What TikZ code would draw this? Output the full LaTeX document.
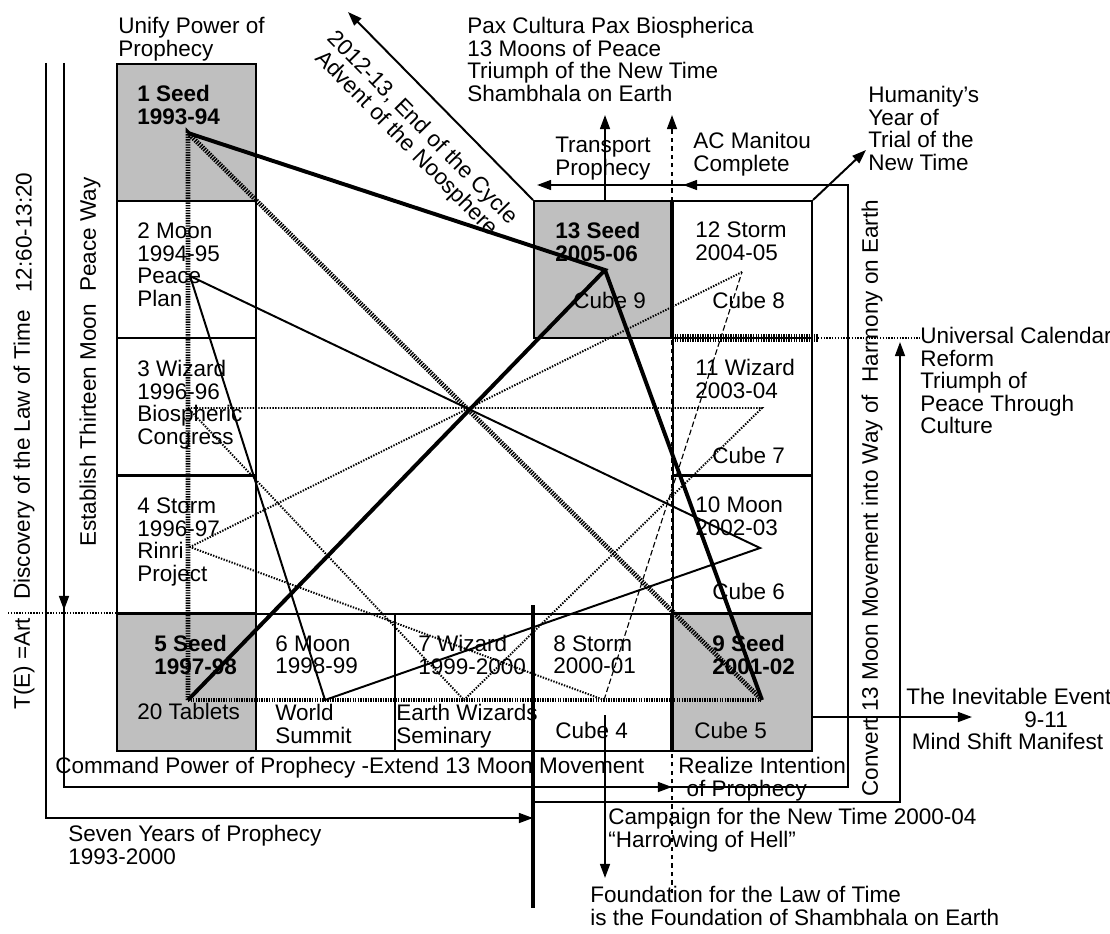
\documentclass[tikz,border=0pt]{standalone}
\usepackage{fontspec}
\setmainfont{Liberation Sans}
\usetikzlibrary{arrows.meta}

\begin{document}
\begin{tikzpicture}[x=0.025cm,y=-0.025cm,>={Triangle[length=10pt,width=7pt]},
		font=\fontsize{16}{16}\selectfont,
		cell/.style={draw,line width=1.4pt,anchor=north west,inner sep=0pt,minimum width=3.475cm,minimum height=3.425cm},
		seed/.style={cell,fill=black!25},
		txt/.style={anchor=north west,align=left,inner sep=0pt},
		boldtxt/.style={txt,font=\fontsize{16}{16}\selectfont\bfseries},
		upright/.style={rotate=90,anchor=west,inner sep=0pt},
		rail/.style={line width=1.4pt},
		heavy/.style={line width=2.8pt},
		seedline/.style={line width=2.8pt},
		seedhatch/.style={line width=3.4pt,dash pattern=on 1pt off 0.8pt},
		moonline/.style={line width=1.4pt},
		wizline/.style={line width=1.4pt,dash pattern=on 1pt off 1pt},
		stormline/.style={line width=1.4pt,dash pattern=on 1pt off 1pt},
		stormdash/.style={line width=0.8pt,dash pattern=on 4pt off 2pt}]
		\useasboundingbox (0,0) rectangle (1110,933);
		% the thirteen years
		\node[seed] (b1) at (116,63) {};
		\node[cell] (b2) at (116,200) {};
		\node[cell] (b3) at (116,337) {};
		\node[cell] (b4) at (116,475) {};
		\node[seed] (b5) at (116,613) {};
		\node[cell] (b6) at (255,613) {};
		\node[cell] (b7) at (394,613) {};
		\node[cell] (b8) at (533,613) {};
		\node[seed] (b9) at (672,613) {};
		\node[cell] (b10) at (672,475) {};
		\node[cell] (b11) at (672,337) {};
		\node[cell] (b12) at (672,200) {};
		\node[seed] (b13) at (533,200) {};
		
		\coordinate (v1) at (188,133);
		\coordinate (v2) at (190,276);
		\coordinate (v3) at (188,408);
		\coordinate (v4) at (190,547);
		\coordinate (v5) at (188,700);
		\coordinate (v6) at (325,700);
		\coordinate (v7) at (464,700);
		\coordinate (v8) at (604,700);
		\coordinate (v9) at (762,700);
		\coordinate (v10) at (760,548);
		\coordinate (v11) at (762,408);
		\coordinate (v12) at (742,272);
		\coordinate (v13) at (605,270);
		
		\draw[seedhatch] (v5) -- (v1) -- (v9);
		\draw[seedhatch,line width=2.4pt] (v5) -- (v9);
		\draw[seedline] (v1) -- (v13) -- (v5) (v13) -- (v9);
		\draw[moonline] (v2) -- (v10) -- (v6) -- cycle;
		\draw[wizline] (v3) -- (v11) -- (v7) -- cycle;
		\draw[stormline] (v12) -- (v4) -- (v8);
		\draw[stormdash] (v8) -- (v12);
		
		% time lines round the cube
		\draw[rail,->] (46,63) |- (533,818);
		\draw[rail,->] (64,63) -- (64,610);
		\draw[rail,->] (64,600) |- (672,787);
		\draw[rail,->] (660,787) -| (848,185) -- (683,185);
		\draw[rail,->] (690,185) -- (537,185);
		\draw[heavy] (533,605) -- (533,908);
		\draw[rail,->] (533,802) -| (900,342);
		\draw[rail,dashed,->] (672,893) -- (672,115);
		\draw[heavy] (672,613) -- (672,750) (672,200) -- (672,337);
		\draw[rail,->] (605,200) -- (605,115);
		\draw[rail,->] (605,715) -- (605,878);
		\draw[rail,->] (b13.north west) -- (348,12);
		\draw[rail,->] (b12.north east) -- (866,150);
		\draw[rail,->] (812,717) -- (972,717);
		\draw[line width=5pt,dash pattern=on 1pt off 0.8pt] (672,338) -- (818,338);
		\draw[line width=1pt,dash pattern=on 1pt off 1pt] (818,338) -- (920,338);
		\draw[line width=1pt,dash pattern=on 1pt off 1pt] (8,613) -- (b5.north west);
		
		\node[boldtxt] (t1) at (137,85) {1 Seed\\1993-94};
		\node[txt] (t2) at (137,223) {2 Moon\\1994-95\\Peace\\Plan};
		\node[txt] (t3) at (137,360) {3 Wizard\\1996-96\\Biospheric\\Congress};
		\node[txt] (t4) at (137,498) {4 Storm\\1996-97\\Rinri\\Project};
		\node[boldtxt] (t5) at (154,635) {5 Seed\\1997-98};
		\node[txt] (tablets) at (137,703) {20 Tablets};
		\node[txt] (t6) at (275,635) {6 Moon\\1998-99};
		\node[txt] (summit) at (275,704) {World\\Summit};
		\node[txt] (t7) at (418,635) {7 Wizard\\1999-2000};
		\node[txt] (seminary) at (396,704) {Earth Wizards\\Seminary};
		\node[txt] (t8) at (553,635) {8 Storm\\2000-01};
		\node[txt] (c4) at (555,722) {Cube 4};
		\node[boldtxt] (t9) at (712,635) {9 Seed\\2001-02};
		\node[txt] (c5) at (694,722) {Cube 5};
		\node[txt] (t10) at (695,497) {10 Moon\\2002-03};
		\node[txt] (c6) at (712,583) {Cube 6};
		\node[txt] (t11) at (695,359) {11 Wizard\\2003-04};
		\node[txt] (c7) at (712,447) {Cube 7};
		\node[txt] (t12) at (695,222) {12 Storm\\2004-05};
		\node[txt] (c8) at (712,292) {Cube 8};
		\node[boldtxt] (t13) at (555,222) {13 Seed\\2005-06};
		\node[txt] (c9) at (573,292) {Cube 9};
		
		\node[txt] (unify) at (118,17) {Unify Power of\\Prophecy};
		\node[txt] (pax) at (467,17) {Pax Cultura Pax Biospherica\\13 Moons of Peace\\Triumph of the New Time\\Shambhala on Earth};
		\node[txt] (transport) at (555,137) {Transport\\Prophecy};
		\node[txt] (manitou) at (693,132) {AC Manitou\\Complete};
		\node[txt] (humanity) at (868,86) {Humanity's\\Year of\\Trial of the\\New Time};
		\node[txt] (reform) at (920,327) {Universal Calendar\\Reform\\Triumph of\\Peace Through\\Culture};
		\node[txt] (command) at (55,757) {Command Power of Prophecy -Extend 13 Moon Movement};
		\node[txt] (realize) at (678,757) {Realize Intention\\\hspace*{6pt}of Prophecy};
		\node[txt] (seven) at (68,825) {Seven Years of Prophecy\\1993-2000};
		\node[txt] (campaign) at (608,808) {Campaign for the New Time 2000-04\\``Harrowing of Hell''};
		\node[txt] (foundation) at (590,886) {Foundation for the Law of Time\\is the Foundation of Shambhala on Earth};
		\node[txt] (event) at (906,688) {The Inevitable Event\\\hspace*{84pt}9-11\\\hspace*{4pt}Mind Shift Manifest};
		\node[rotate=-45.5,align=center,inner sep=0pt] (cycle) at (414,136) {2012-13, End of the Cycle\\Advent of the Noosphere};
		\node[upright] (art) at (24,710) {T(E) =Art};
		\node[upright] (law) at (24,600) {Discovery of the Law of Time};
		\node[upright] (ratio) at (24,293) {12:60-13:20};
		\node[upright] (peaceway) at (90,547) {Establish Thirteen Moon\ \ Peace Way};
		\node[upright] (convert) at (872,797) {Convert 13 Moon Movement into Way of\ \ Harmony on Earth};
\end{tikzpicture}
\end{document}
